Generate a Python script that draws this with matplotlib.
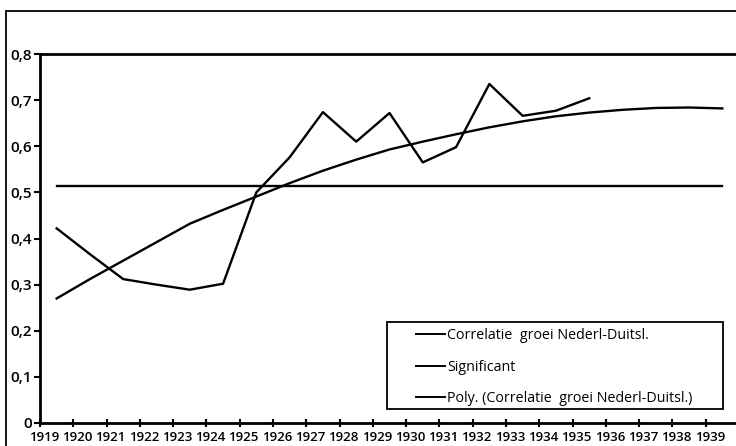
import numpy as np
import matplotlib.pyplot as plt
from matplotlib.patches import Rectangle
from matplotlib.ticker import FuncFormatter

# Data
years = list(range(1919, 1940))
correlatie = [0.422, 0.366, 0.312, 0.300, 0.289, 0.302, 0.500, 0.576, 0.674,
              0.610, 0.672, 0.565, 0.598, 0.735, 0.666, 0.677, 0.704]
significant = [0.514] * len(years)
poly = [0.270, 0.312, 0.352, 0.392, 0.432, 0.462, 0.491, 0.520, 0.547, 0.571,
        0.593, 0.610, 0.626, 0.641, 0.654, 0.665, 0.673, 0.679, 0.683, 0.684,
        0.682]

plt.rcParams['font.family'] = ['Open Sans', 'DejaVu Sans']

W, H = 736, 446
fig = plt.figure(figsize=(W / 100, H / 100), dpi=100)
ax = fig.add_axes([40 / W, 1 - 423 / H, 699 / W, (423 - 54) / H])

x = np.arange(len(years))
ax.plot(x[:len(correlatie)], correlatie, color='black', lw=1.7,
        label='Correlatie  groei Nederl-Duitsl.')
ax.plot(x, significant, color='black', lw=1.7, label='Significant')
ax.plot(x, poly, color='black', lw=1.7,
        label='Poly. (Correlatie  groei Nederl-Duitsl.)')

ax.set_xlim(-0.5, len(years) - 0.5)
ax.set_ylim(0, 0.8)

# y axis
ax.set_yticks(np.arange(0, 0.81, 0.1))
ax.yaxis.set_major_formatter(FuncFormatter(
    lambda v, p: '0' if abs(v) < 1e-9 else f'{v:.1f}'.replace('.', ',')))
ax.tick_params(axis='y', direction='out', length=4, width=1.5, pad=2,
               labelsize=11)
for lab in ax.get_yticklabels():
    lab.set_fontweight('semibold')

# x axis: ticks between categories, labels a bit left of centre
ax.set_xticks(np.arange(len(years) + 1) - 0.5)
ax.set_xticklabels([])
ax.tick_params(axis='x', direction='inout', length=6, width=1.5)
for i, yr in enumerate(years):
    ax.text(i - 0.38, -0.017, str(yr), ha='center', va='top', fontsize=9.5,
            fontweight='semibold', transform=ax.transData)

for side in ['left', 'bottom', 'top']:
    ax.spines[side].set_linewidth(2)
ax.spines['right'].set_visible(False)

# legend (frame drawn separately to get Excel's wide left margin)
leg = fig.legend(loc='upper left', bbox_to_anchor=(416 / W, 1 - 328 / H),
                 frameon=False, fontsize=10.3, handlelength=2.0,
                 handletextpad=0.15, labelspacing=1.17, borderpad=0,
                 borderaxespad=0)
for line in leg.get_lines():
    line.set_linewidth(1.4)
fig.add_artist(Rectangle((387 / W, 1 - 409 / H), (723 - 387) / W,
                         (409 - 322) / H, transform=fig.transFigure,
                         fill=False, lw=1.3, edgecolor='black'))

# chart area border
fig.add_artist(Rectangle((6 / W, -0.1), 2, 1 - 11 / H + 0.1,
                         transform=fig.transFigure, fill=False,
                         lw=1.3, edgecolor='black'))

fig.savefig('out.png', dpi=100)
